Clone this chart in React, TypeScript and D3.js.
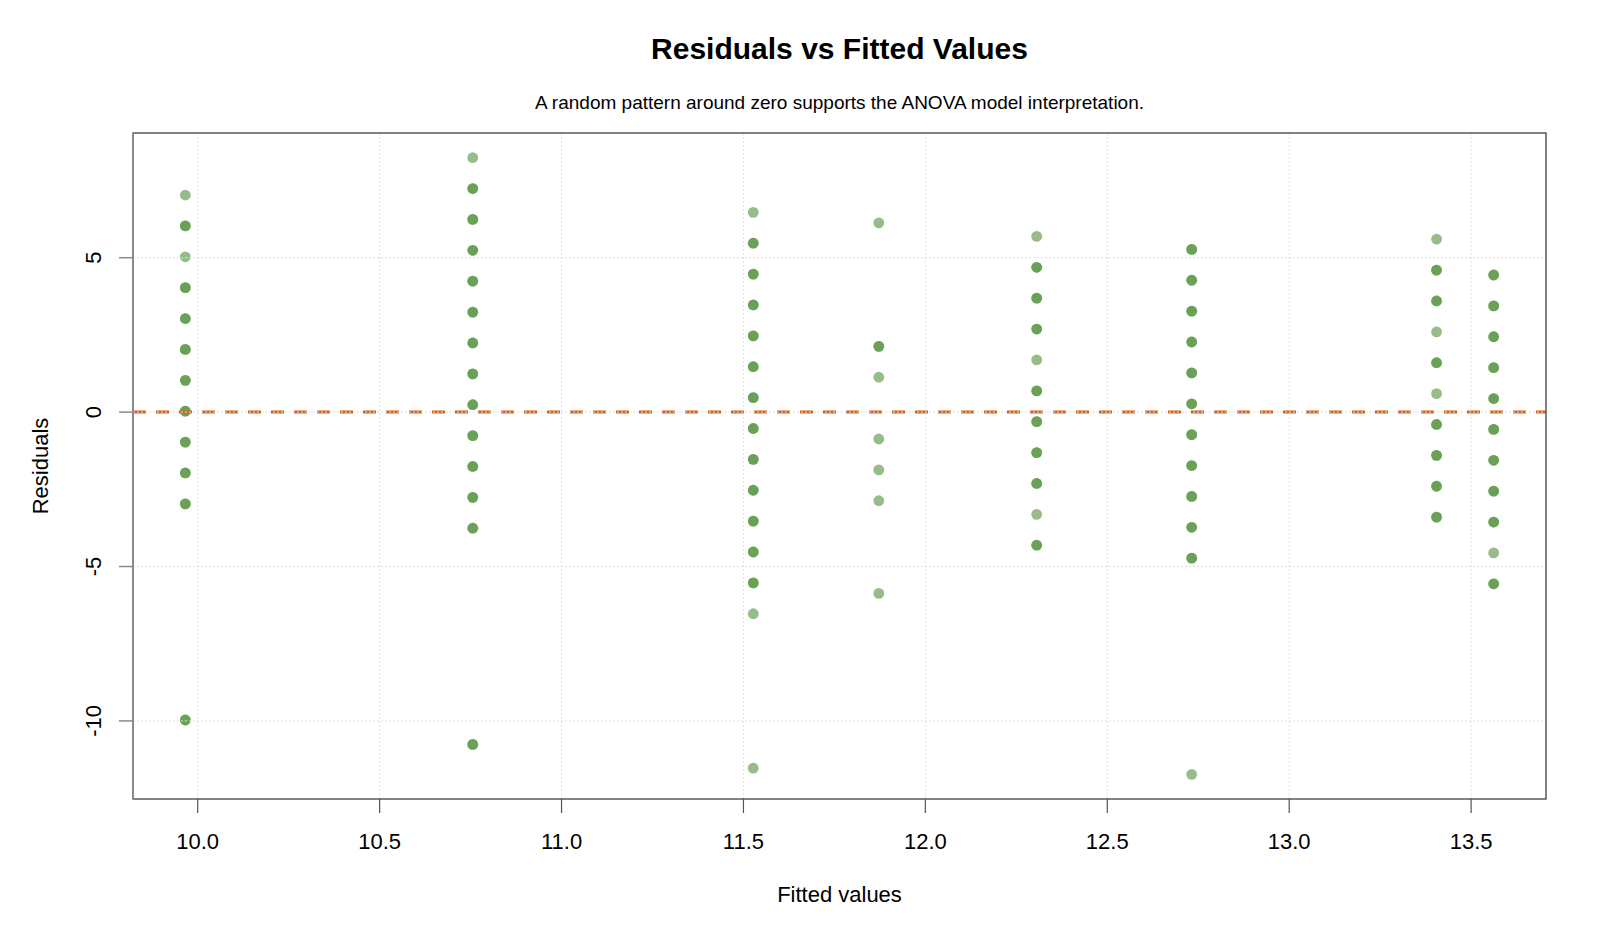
import * as d3 from "d3";
import React, { useEffect, useRef } from "react";

// fitted value of each group (one column of points per group)
const fittedValues = [9.966, 10.756, 11.527, 11.872, 12.306, 12.732, 13.405, 13.562];

// distinct residual levels per group, and how many observations sit on each level
const residualLevels: number[][] = [
    [7.03, 6.03, 5.03, 4.03, 3.03, 2.03, 1.03, 0.03, -0.97, -1.97, -2.97, -9.97],
    [8.24, 7.24, 6.24, 5.24, 4.24, 3.24, 2.24, 1.24, 0.24, -0.76, -1.76, -2.76, -3.76, -10.76],
    [6.47, 5.47, 4.47, 3.47, 2.47, 1.47, 0.47, -0.53, -1.53, -2.53, -3.53, -4.53, -5.53, -6.53, -11.53],
    [6.13, 2.13, 1.13, -0.87, -1.87, -2.87, -5.87],
    [5.69, 4.69, 3.69, 2.69, 1.69, 0.69, -0.31, -1.31, -2.31, -3.31, -4.31],
    [5.27, 4.27, 3.27, 2.27, 1.27, 0.27, -0.73, -1.73, -2.73, -3.73, -4.73, -11.73],
    [5.6, 4.6, 3.6, 2.6, 1.6, 0.6, -0.4, -1.4, -2.4, -3.4],
    [4.44, 3.44, 2.44, 1.44, 0.44, -0.56, -1.56, -2.56, -3.56, -4.56, -5.56],
];
const levelCounts: number[][] = [
    [1, 2, 1, 2, 2, 2, 2, 2, 2, 2, 2, 2],
    [1, 2, 2, 2, 2, 2, 2, 2, 2, 2, 2, 2, 2, 2],
    [1, 2, 2, 2, 2, 2, 2, 2, 2, 2, 2, 2, 2, 1, 1],
    [1, 2, 1, 1, 1, 1, 1],
    [1, 2, 2, 2, 1, 2, 2, 2, 2, 1, 2],
    [2, 2, 2, 2, 2, 2, 2, 2, 2, 2, 2, 1],
    [1, 2, 2, 1, 2, 1, 2, 2, 2, 2],
    [2, 2, 2, 2, 2, 2, 2, 2, 2, 1, 2],
];

const xTicks = [10.0, 10.5, 11.0, 11.5, 12.0, 12.5, 13.0, 13.5];
const yTicks = [-10, -5, 0, 5];

const title = "Residuals vs Fitted Values";
const subtitle = "A random pattern around zero supports the ANOVA model interpretation.";
const xLabel = "Fitted values";
const yLabel = "Residuals";

type Obs = { fitted: number; resid: number };

// R-style range: data extent padded by 4% each side
const padded = (vals: number[]): [number, number] => {
    const [lo, hi] = d3.extent(vals) as [number, number];
    const pad = (hi - lo) * 0.04;
    return [lo - pad, hi + pad];
};

export default function App() {
    const svgRef = useRef<SVGSVGElement>(null);

    useEffect(() => {
        const W = 1600;
        const H = 933;
        const plot = { left: 133, right: 1546, top: 133, bottom: 799 };
        const font = "'Liberation Sans', Arial, sans-serif";

        const obs: Obs[] = [];
        fittedValues.forEach((f, gi) => {
            residualLevels[gi].forEach((r, li) => {
                for (let k = 0; k < levelCounts[gi][li]; k++) obs.push({ fitted: f, resid: r });
            });
        });

        const x = d3.scaleLinear()
            .domain(padded(fittedValues))
            .range([plot.left, plot.right]);
        const y = d3.scaleLinear()
            .domain(padded(obs.map(d => d.resid)))
            .range([plot.bottom, plot.top]);

        const svg = d3.select(svgRef.current!)
            .attr("width", W)
            .attr("height", H)
            .attr("viewBox", `0 0 ${W} ${H}`);
        svg.selectAll("*").remove();

        svg.append("rect")
            .attr("width", W)
            .attr("height", H)
            .attr("fill", "#ffffff");

        // points (semi transparent so ties show up darker)
        svg.append("g")
            .selectAll("circle")
            .data(obs)
            .enter().append("circle")
            .attr("cx", d => x(d.fitted))
            .attr("cy", d => y(d.resid))
            .attr("r", 5.4)
            .attr("fill", "#4c8b33")
            .attr("fill-opacity", 0.58);

        // zero reference line
        svg.append("line")
            .attr("x1", plot.left)
            .attr("x2", plot.right)
            .attr("y1", y(0))
            .attr("y2", y(0))
            .attr("stroke", "#d2651a")
            .attr("stroke-width", 3)
            .attr("stroke-dasharray", "13 10");

        // dotted grid on top
        const grid = svg.append("g")
            .attr("stroke", "#dedede")
            .attr("stroke-width", 1)
            .attr("stroke-dasharray", "2 2");
        grid.selectAll(".gx")
            .data(xTicks)
            .enter().append("line")
            .attr("x1", d => x(d)).attr("x2", d => x(d))
            .attr("y1", plot.top).attr("y2", plot.bottom);
        grid.selectAll(".gy")
            .data(yTicks)
            .enter().append("line")
            .attr("x1", plot.left).attr("x2", plot.right)
            .attr("y1", d => y(d)).attr("y2", d => y(d));

        // plot frame
        svg.append("rect")
            .attr("x", plot.left)
            .attr("y", plot.top)
            .attr("width", plot.right - plot.left)
            .attr("height", plot.bottom - plot.top)
            .attr("fill", "none")
            .attr("stroke", "#3f3f3f")
            .attr("stroke-width", 1.3);

        // x axis ticks + labels
        const xAxis = svg.append("g");
        xAxis.selectAll("line")
            .data(xTicks)
            .enter().append("line")
            .attr("x1", d => x(d)).attr("x2", d => x(d))
            .attr("y1", plot.bottom).attr("y2", plot.bottom + 14)
            .attr("stroke", "#555")
            .attr("stroke-width", 1.2);
        xAxis.selectAll("text")
            .data(xTicks)
            .enter().append("text")
            .attr("x", d => x(d))
            .attr("y", 849)
            .attr("text-anchor", "middle")
            .attr("font-family", font)
            .attr("font-size", 22)
            .attr("fill", "#000")
            .text(d => d3.format(".1f")(d));

        // y axis: gray line, ticks and rotated labels
        const yAxis = svg.append("g");
        yAxis.append("line")
            .attr("x1", plot.left).attr("x2", plot.left)
            .attr("y1", plot.top).attr("y2", plot.bottom)
            .attr("stroke", "#8a8a8a")
            .attr("stroke-width", 2);
        yAxis.selectAll(".tick")
            .data(yTicks)
            .enter().append("line")
            .attr("class", "tick")
            .attr("x1", plot.left - 14).attr("x2", plot.left)
            .attr("y1", d => y(d)).attr("y2", d => y(d))
            .attr("stroke", "#8a8a8a")
            .attr("stroke-width", 1.5);
        yAxis.selectAll("text")
            .data(yTicks)
            .enter().append("text")
            .attr("transform", d => `translate(101,${y(d)}) rotate(-90)`)
            .attr("text-anchor", "middle")
            .attr("font-family", font)
            .attr("font-size", 22)
            .attr("fill", "#000")
            .text(d => String(d));

        // titles
        const cx = (plot.left + plot.right) / 2;
        svg.append("text")
            .attr("x", cx)
            .attr("y", 59)
            .attr("text-anchor", "middle")
            .attr("font-family", font)
            .attr("font-size", 30)
            .attr("font-weight", "bold")
            .text(title);
        svg.append("text")
            .attr("x", cx)
            .attr("y", 109)
            .attr("text-anchor", "middle")
            .attr("font-family", font)
            .attr("font-size", 19)
            .text(subtitle);
        svg.append("text")
            .attr("x", cx)
            .attr("y", 902)
            .attr("text-anchor", "middle")
            .attr("font-family", font)
            .attr("font-size", 22)
            .text(xLabel);
        svg.append("text")
            .attr("transform", `translate(48,${(plot.top + plot.bottom) / 2}) rotate(-90)`)
            .attr("text-anchor", "middle")
            .attr("font-family", font)
            .attr("font-size", 22)
            .text(yLabel);
    }, []);

    return (
        <svg ref={svgRef} style={{ position: "absolute", left: 0, top: 0, display: "block" }} />
    );
}
